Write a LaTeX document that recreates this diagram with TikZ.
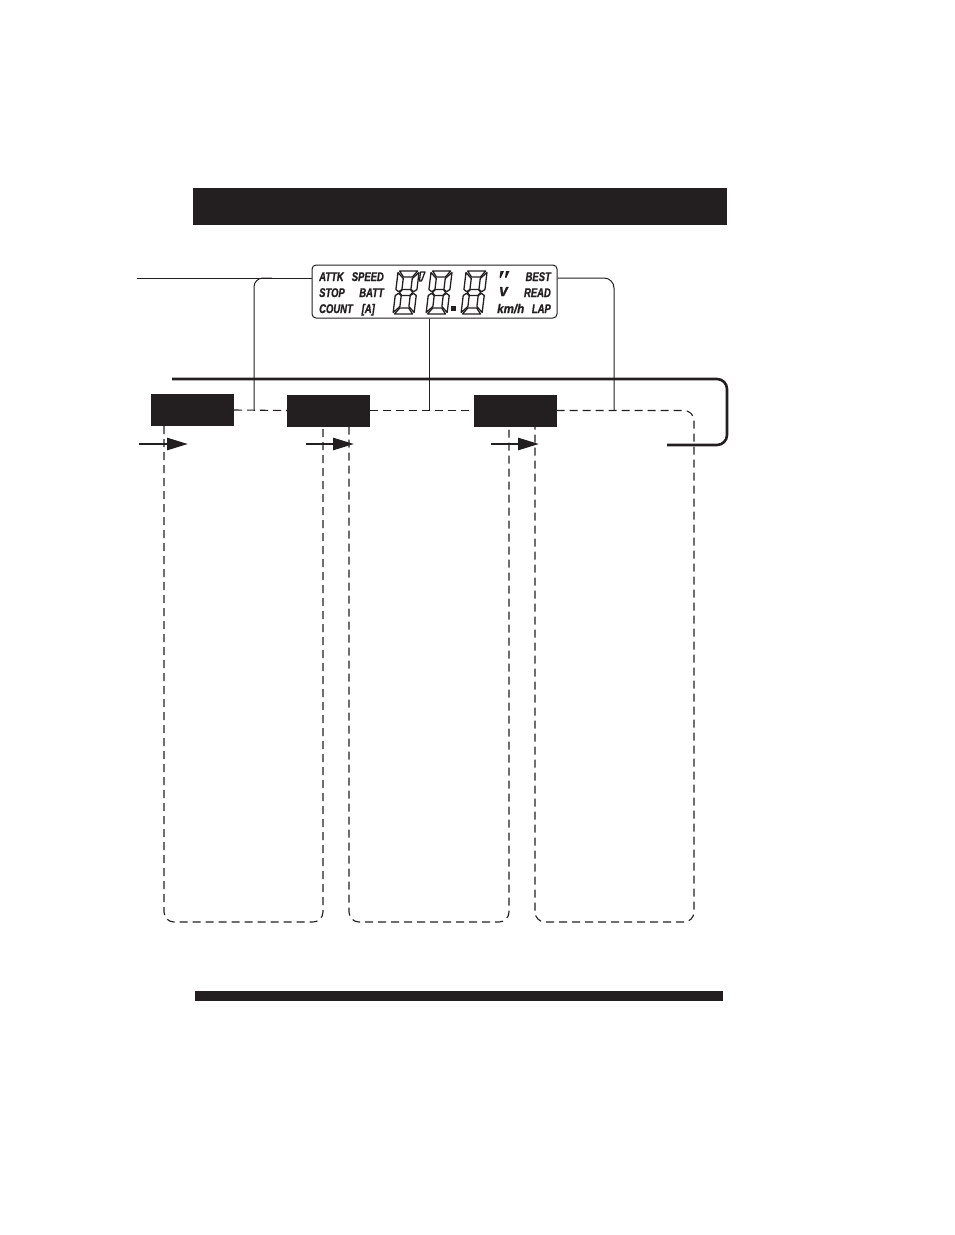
\documentclass[tikz,border=0pt]{standalone}
\usepackage{fontspec}
\setmainfont{Liberation Sans}
\newfontfamily\lcdfont[FakeStretch=0.75, FakeBold=1.2]{Liberation Sans Bold Italic}
\newfontfamily\lcdwide[FakeStretch=0.92, FakeBold=1.2]{Liberation Sans Bold Italic}
\usetikzlibrary{arrows.meta, positioning, calc}
\definecolor{ink}{HTML}{231F20}

\begin{document}
\begin{tikzpicture}[x=1pt, y=-1pt,
  bar/.style={fill=ink, inner sep=0pt},
  keybox/.style={fill=ink, inner sep=0pt, minimum width=83pt, minimum height=32pt},
  lcd/.style={draw=ink, line width=1pt, rounded corners=4pt, inner sep=0pt, minimum width=245pt, minimum height=53pt},
  lcdtext/.style={inner sep=0pt, text=ink, font=\lcdfont\fontsize{12.6}{12.6}\selectfont},
  lcdwidetext/.style={inner sep=0pt, text=ink, font=\lcdwide\fontsize{12.6}{12.6}\selectfont},
  seg/.style={draw=ink, line width=1.3pt, fill=white, line join=round},
  leadline/.style={draw=ink, line width=1pt},
  dashline/.style={draw=ink, line width=1.1pt, dash pattern=on 8pt off 5pt},
  loopline/.style={draw=ink, line width=2.6pt, rounded corners=10pt},
  steparrow/.style={draw=ink, line width=2.6pt, -{Triangle[length=21pt, width=12pt]}}
]
\useasboundingbox (0,0) rectangle (954,1235);

% bars
\node[bar, minimum width=534pt, minimum height=37pt] (title) at (460,206.5) {};
\node[bar, minimum width=528pt, minimum height=10pt] (footer) at (459,996) {};

% display
\node[lcd] (lcd) at (434.5,291.5) {};
\node[lcdtext, anchor=base west] (attk) at (319,281) {ATTK};
\node[lcdtext, anchor=base east] (speed) at (384,281) {SPEED};
\node[lcdtext, anchor=base west] (stop) at (319,297) {STOP};
\node[lcdtext, anchor=base east] (batt) at (384,297) {BATT};
\node[lcdtext, anchor=base west] (count) at (319,313) {COUNT};
\node[lcdtext, anchor=base east] (amp) at (375,313) {[A]};
\node[lcdtext, anchor=base east] (best) at (551,281) {BEST};
\node[lcdtext, anchor=base east] (read) at (551,297) {READ};
\node[lcdtext, anchor=base east] (lap) at (551,313) {LAP};
\node[lcdwidetext, anchor=base west] (kmh) at (497,313) {km/h};
\node[lcdwidetext, anchor=base west, font=\lcdwide\fontsize{17}{17}\selectfont] (tick) at (499,296) {v};

% digits
\foreach \dx in {393,426,461} {
  \begin{scope}[shift={(\dx,314)}, xslant=0.12, yscale=-1]
    \draw[seg] (1.5,43) -- (19.5,43) -- (15,37) -- (6,37) -- cycle;
    \draw[seg] (1.5,0) -- (19.5,0) -- (15,6) -- (6,6) -- cycle;
    \draw[seg] (0,41.5) -- (6,35.5) -- (6,24.5) -- (3,22.3) -- (0,24.5) -- cycle;
    \draw[seg] (0,1.5) -- (6,7.5) -- (6,18.5) -- (3,20.7) -- (0,18.5) -- cycle;
    \draw[seg] (21,41.5) -- (15,35.5) -- (15,24.5) -- (18,22.3) -- (21,24.5) -- cycle;
    \draw[seg] (21,1.5) -- (15,7.5) -- (15,18.5) -- (18,20.7) -- (21,18.5) -- cycle;
    \draw[seg] (3.8,21.5) -- (6.5,24.5) -- (14.5,24.5) -- (17.2,21.5) -- (14.5,18.5) -- (6.5,18.5) -- cycle;
  \end{scope}
}
\draw[seg] (420.5,272) -- (425,272) -- (421.5,281) -- (419.5,281) -- cycle;
\fill[ink] (450.5,306) rectangle (455.5,311);
% seconds mark
\foreach \qx in {499.5,505} {
  \fill[ink] (\qx+1,271) -- (\qx+4.5,271) -- (\qx+1.3,278) -- (\qx,277.5) -- cycle;
}

% keys
\node[keybox] (k1) at (192.5,410) {};
\node[keybox] (k2) at (328.5,410.5) {};
\node[keybox] (k3) at (515,410.5) {};

% leads from the display
\coordinate (lead) at (137,278);
\coordinate (fork) at (272,278);
\coordinate (lefttap) at (254,410.5);
\coordinate (midtap) at (429,410.5);
\coordinate (righttap) at (614,410.5);
\draw[leadline] (lead) -- (lcd.west |- lead);
\draw[leadline, rounded corners=9pt] (fork) -| (lefttap);
\draw[leadline] (lcd.south -| midtap) -- (midtap);
\draw[leadline, rounded corners=10pt] (lcd.east |- lead) -| (righttap);

% loop
\coordinate (loopin) at (172,379);
\coordinate (loopside) at (727,412);
\coordinate (loopout) at (667,445);
\draw[loopline] (loopin) -| (loopside) |- (loopout);

% columns
\coordinate (floor1) at (323,922);
\coordinate (floor2) at (509,922);
\coordinate (floor3) at (694,922);
\draw[dashline] (k1.east) -- (k2.west);
\draw[dashline] (k2.east) -- (k3.west);
\draw[dashline, rounded corners=10pt] ($(k1.south)+(-28.5,0)$) |- (floor1) -- ($(k2.south)+(-5.5,0)$);
\draw[dashline, rounded corners=10pt] ($(k2.south)+(20.5,0)$) |- (floor2) -- ($(k3.south)+(-6,0)$);
\draw[dashline, rounded corners=10pt] (k3.east) -| (floor3) -| ($(k3.south)+(20,0)$);

% arrows
\foreach \sx/\ex [count=\i] in {139/188, 306/354, 491/539} {
  \coordinate (in\i) at (\sx,444);
  \coordinate (push\i) at (\ex,444);
  \draw[steparrow] (in\i) -- (push\i);
}
\end{tikzpicture}
\end{document}
